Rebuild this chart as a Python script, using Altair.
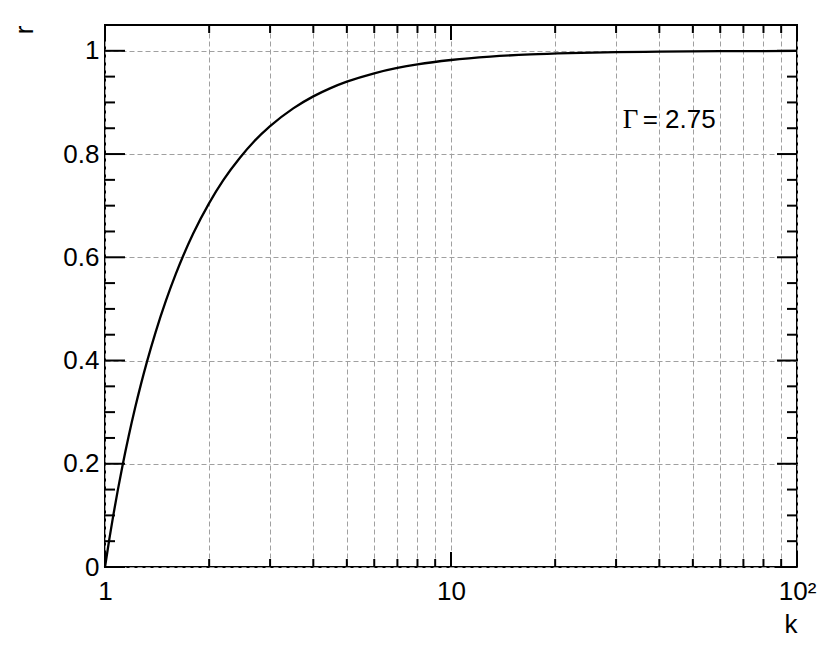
import altair as alt
import pandas as pd

# curve values
k_vals = [1, 1.03, 1.057, 1.09, 1.125, 1.17, 1.221, 1.27, 1.32, 1.4, 1.5, 1.6,
          1.684, 1.8, 2, 2.2, 2.455, 2.7, 3, 3.5, 4, 4.47, 5, 6, 7, 8, 10, 13,
          17, 22, 30, 40, 60, 100]
r_vals = [0, 0.0554, 0.1005, 0.1504, 0.1982, 0.2529, 0.3074, 0.3538, 0.396,
          0.4547, 0.516, 0.5669, 0.6035, 0.6465, 0.705, 0.75, 0.793, 0.8248,
          0.854, 0.8885, 0.9117, 0.9273, 0.9402, 0.9565, 0.9668, 0.9737, 0.9822,
          0.9888, 0.993, 0.9955, 0.9974, 0.9984, 0.9992, 0.9997]

x_grid = [1, 2, 3, 4, 5, 6, 7, 8, 9, 10, 20, 30, 40, 50, 60, 70, 80, 90, 100]
x_major = [1, 10, 100]
x_minor = [2, 3, 4, 5, 6, 7, 8, 9, 20, 30, 40, 50, 60, 70, 80, 90]
y_major = [0, 0.2, 0.4, 0.6, 0.8, 1.0]
y_minor = [0.05, 0.1, 0.15, 0.25, 0.3, 0.35, 0.45, 0.5, 0.55, 0.65, 0.7, 0.75,
           0.85, 0.9, 0.95]

ann_k = [31.35]
ann_r = [0.850]
ann_sym = ["Γ"]
ann_val = ["= 2.75"]

FONT = "Liberation Sans"
W, H = 692, 542

curve = pd.DataFrame({"k": k_vals, "r": r_vals})
ann = pd.DataFrame({"k": ann_k, "r": ann_r, "s": ann_sym, "t": ann_val})
xmaj = pd.DataFrame({"v": x_major})
xmin = pd.DataFrame({"v": x_minor})
ymaj = pd.DataFrame({"v": y_major})
ymin = pd.DataFrame({"v": y_minor})

xscale = alt.Scale(type="log", domain=[1, 100], nice=False)
yscale = alt.Scale(domain=[0, 1.05], nice=False, zero=False)

xaxis = alt.Axis(
    values=x_grid, grid=True, gridColor="#a0a0a0", gridDash=[5, 3], gridWidth=1,
    ticks=False, tickSize=0, domain=False,
    labelExpr="datum.value == 1 ? '1' : (datum.value == 10 ? '10' : (datum.value == 100 ? '10²' : ''))",
    labelFont=FONT, labelFontSize=26, labelColor="black", labelPadding=11,
    labelFlush=False, labelOverlap=False,
    title="k", titleFont=FONT, titleFontSize=26, titleFontWeight="normal",
    titleColor="black", titleX=W, titleY=65, titleAlign="right",
    titleAnchor="end", titleBaseline="alphabetic",
)
yaxis = alt.Axis(
    values=y_major, grid=True, gridColor="#a0a0a0", gridDash=[5, 3], gridWidth=1,
    ticks=False, tickSize=0, domain=False, format="~g",
    labelFont=FONT, labelFontSize=26, labelColor="black", labelPadding=6,
    labelFlush=False, labelOverlap=False,
    title="r", titleFont=FONT, titleFontSize=26, titleFontWeight="normal",
    titleColor="black", titleX=-73, titleY=0, titleAngle=270, titleAlign="right",
    titleAnchor="end", titleBaseline="alphabetic",
)


def X(f):
    return alt.X(f, type="quantitative", scale=xscale, axis=xaxis)


def Y(f):
    return alt.Y(f, type="quantitative", scale=yscale, axis=yaxis)


line = alt.Chart(curve).mark_line(color="black", strokeWidth=2.3, interpolate="monotone").encode(
    x=X("k"), y=Y("r")
)

tick = dict(color="black", strokeWidth=2)
ytl_maj = alt.Chart(ymaj).mark_rule(**tick).encode(y=Y("v"), x=alt.value(0), x2=alt.value(20))
ytl_min = alt.Chart(ymin).mark_rule(**tick).encode(y=Y("v"), x=alt.value(0), x2=alt.value(10))
ytr_maj = alt.Chart(ymaj).mark_rule(**tick).encode(y=Y("v"), x=alt.value(W), x2=alt.value(W - 20))
ytr_min = alt.Chart(ymin).mark_rule(**tick).encode(y=Y("v"), x=alt.value(W), x2=alt.value(W - 10))
xtb_maj = alt.Chart(xmaj).mark_rule(**tick).encode(x=X("v"), y=alt.value(H), y2=alt.value(H - 15))
xtb_min = alt.Chart(xmin).mark_rule(**tick).encode(x=X("v"), y=alt.value(H), y2=alt.value(H - 8))
xtt_maj = alt.Chart(xmaj).mark_rule(**tick).encode(x=X("v"), y=alt.value(0), y2=alt.value(15))
xtt_min = alt.Chart(xmin).mark_rule(**tick).encode(x=X("v"), y=alt.value(0), y2=alt.value(8))

sym = alt.Chart(ann).mark_text(
    align="left", baseline="alphabetic", font="Liberation Serif", fontSize=27, color="black"
).encode(x=X("k"), y=Y("r"), text="s:N")
val = alt.Chart(ann).mark_text(
    align="left", baseline="alphabetic", font=FONT, fontSize=26, color="black", dx=20
).encode(x=X("k"), y=Y("r"), text="t:N")

chart = alt.layer(
    line, ytl_maj, ytl_min, ytr_maj, ytr_min, xtb_maj, xtb_min, xtt_maj, xtt_min, sym, val
).properties(
    width=W, height=H,
    autosize=alt.AutoSizeParams(type="none"),
    padding={"left": 97, "top": 17, "right": 25, "bottom": 72},
    background="white",
).configure_view(stroke="black", strokeWidth=2)

chart.save("out.html", embed_options={"renderer": "svg", "actions": False})
